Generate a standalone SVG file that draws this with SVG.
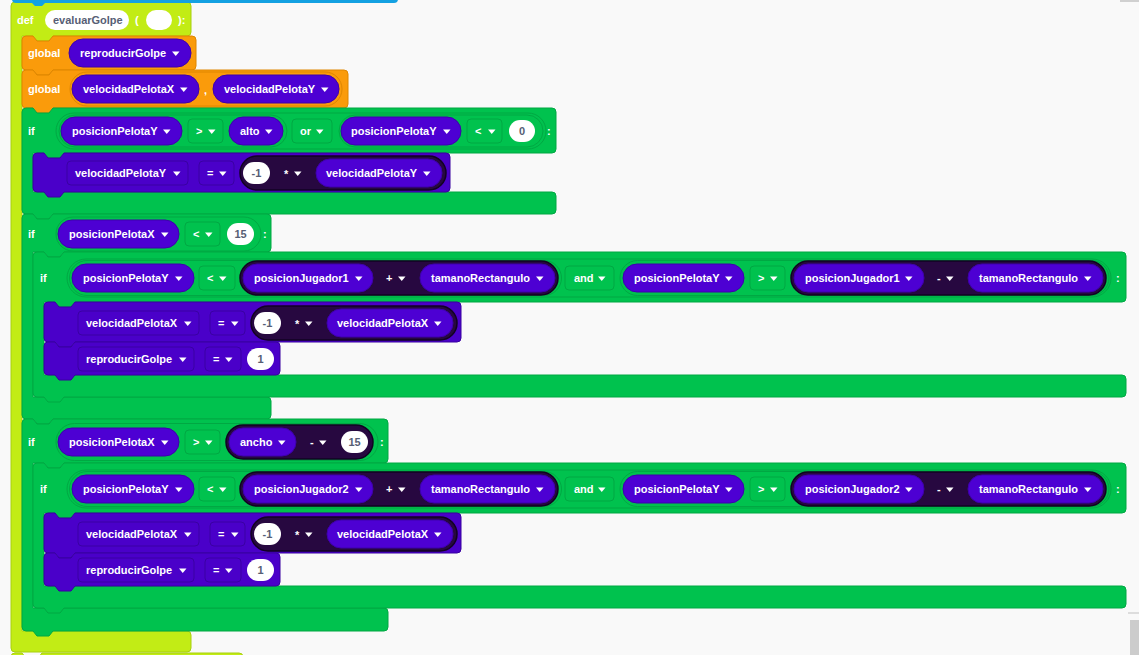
<svg xmlns="http://www.w3.org/2000/svg" width="1139" height="655" viewBox="0 0 1139 655">
<defs>
<style>
.lime{fill:#c2ec15;stroke:#a8d00e}
.org{fill:#fa9b0b;stroke:#de8600}
.grn{fill:#00c24e;stroke:#00a843}
.pur{fill:#4a00c9;stroke:#3800a0}
.pill{fill:#4d00d3;stroke:#3e00ac}
.dk{fill:#270840;stroke:#120222;stroke-width:1.5}
.wh{fill:#fff}
.ol{fill:none;stroke:#00a843}
.olo{fill:none;stroke:#de8600}
.box{fill:none;stroke:#00a843}
.fld{fill:none;stroke:#3a00a3}
text{font-family:"Liberation Sans",Arial,sans-serif;font-weight:bold;font-size:11px;fill:#fff}
.n{fill:#575e75;text-anchor:middle}
.nm{fill:#575e75}
</style>
<path id="dd" d="M0,0h7.5l-3.75,4.5z" fill="#fff"/>
</defs>
<rect width="1139" height="655" fill="#f9f9f9"/>

<g id="def-evaluarGolpe">
<path class="lime" d="M11,6 Q11,2 15,2 H187 Q191,2 191,6 V32 Q191,36 187,36 H53 l-4,5 h-12 l-4,-5 H22 V631 H187 Q191,631 191,635 V648 Q191,652 187,652 H15 Q11,652 11,648 Z"/>
<text x="17" y="24">def</text>
<rect class="wh" x="45" y="10" width="84" height="20" rx="10"/>
<text class="nm" x="53" y="24">evaluarGolpe</text>
<text x="135" y="24">(</text>
<rect class="wh" x="146" y="10" width="26" height="20" rx="10"/>
<text x="178" y="24">):</text>
</g>

<g id="block-above">
<path fill="#14a1e2" d="M12,-10 H398 V-1 Q398,3 394,3 H45 l-3,3 h-7 l-3,-3 H16 Q12,3 12,-1 Z"/>
</g>

<g id="global-1">
<path class="org" d="M22,40 Q22,36 26,36 H33 l4,5 h12 l4,-5 H192 Q196,36 196,40 V66 Q196,70 192,70 H53 l-4,5 h-12 l-4,-5 H26 Q22,70 22,66 Z"/>
<text x="28" y="57">global</text>
<rect class="pill" x="69" y="39" width="122" height="28" rx="14"/>
<text x="80" y="57">reproducirGolpe</text><use href="#dd" x="172" y="51.5"/>
</g>

<g id="global-2">
<path class="org" d="M22,74 Q22,70 26,70 H33 l4,5 h12 l4,-5 H344 Q348,70 348,74 V104 Q348,108 344,108 H53 l-4,5 h-12 l-4,-5 H26 Q22,108 22,104 Z"/>
<text x="28" y="93">global</text>
<rect class="olo" x="70" y="72" width="272" height="34" rx="17"/>
<rect class="pill" x="72" y="75" width="127" height="28" rx="14"/>
<text x="83" y="93">velocidadPelotaX</text><use href="#dd" x="180" y="87.5"/>
<text x="204" y="94">,</text>
<rect class="pill" x="213" y="75" width="126" height="28" rx="14"/>
<text x="224" y="93">velocidadPelotaY</text><use href="#dd" x="321" y="87.5"/>
</g>

<g id="if-1">
<path class="grn" d="M22,112 Q22,108 26,108 H33 l4,5 h12 l4,-5 H552 Q556,108 556,112 V149 Q556,153 552,153 H64 l-4,5 h-12 l-4,-5 H33 V192 H552 Q556,192 556,196 V210 Q556,214 552,214 H53 l-4,5 h-12 l-4,-5 H26 Q22,214 22,210 Z"/>
<text x="28" y="135">if</text>
<rect class="ol" x="56" y="113" width="490" height="36" rx="18"/>
<rect class="ol" x="59" y="115" width="228" height="32" rx="16"/>
<rect class="ol" x="339" y="115" width="204" height="32" rx="16"/>
<rect class="pill" x="61" y="117" width="121" height="28" rx="14"/>
<text x="72" y="135">posicionPelotaY</text><use href="#dd" x="163" y="129.5"/>
<rect class="box" x="188" y="119" width="35" height="24" rx="4"/>
<text x="196" y="135">&gt;</text><use href="#dd" x="208" y="129.5"/>
<rect class="pill" x="229" y="117" width="54" height="28" rx="14"/>
<text x="240" y="135">alto</text><use href="#dd" x="265" y="129.5"/>
<rect class="box" x="292" y="119" width="40" height="24" rx="4"/>
<text x="300" y="135">or</text><use href="#dd" x="316" y="129.5"/>
<rect class="pill" x="341" y="117" width="120" height="28" rx="14"/>
<text x="351" y="135">posicionPelotaY</text><use href="#dd" x="443" y="129.5"/>
<rect class="box" x="467" y="119" width="35" height="24" rx="4"/>
<text x="475" y="135">&lt;</text><use href="#dd" x="488" y="129.5"/>
<rect class="wh" x="509" y="120" width="26" height="22" rx="11"/>
<text class="n" x="522" y="135">0</text>
<text x="547" y="135">:</text>
</g>

<g id="set-velocidadPelotaY">
<path class="pur" d="M33,157 Q33,153 37,153 H44 l4,5 h12 l4,-5 H446 Q450,153 450,157 V188 Q450,192 446,192 H64 l-4,5 h-12 l-4,-5 H37 Q33,192 33,188 Z"/>
<rect class="fld" x="67" y="161" width="121" height="24" rx="4"/>
<text x="75" y="177">velocidadPelotaY</text><use href="#dd" x="173" y="171.5"/>
<rect class="fld" x="199" y="161" width="35" height="24" rx="4"/>
<text x="207" y="177">=</text><use href="#dd" x="219" y="171.5"/>
<rect class="dk" x="240" y="156" width="206" height="34" rx="17"/>
<rect class="wh" x="243" y="162" width="27" height="22" rx="11"/>
<text class="n" x="256.5" y="177">-1</text>
<text x="284" y="178">*</text><use href="#dd" x="294" y="171.5"/>
<rect class="pill" x="316" y="159" width="126" height="28" rx="14"/>
<text x="326" y="177">velocidadPelotaY</text><use href="#dd" x="423" y="171.5"/>
</g>

<g id="if-2">
<path class="grn" d="M22,218 Q22,214 26,214 H33 l4,5 h12 l4,-5 H267 Q271,214 271,218 V248 Q271,252 267,252 H64 l-4,5 h-12 l-4,-5 H33 V397 H267 Q271,397 271,401 V415 Q271,419 267,419 H53 l-4,5 h-12 l-4,-5 H26 Q22,419 22,415 Z"/>
<text x="28" y="238">if</text>
<rect class="ol" x="56" y="217" width="205" height="34" rx="17"/>
<rect class="pill" x="58" y="220" width="121" height="28" rx="14"/>
<text x="69" y="238">posicionPelotaX</text><use href="#dd" x="161" y="232.5"/>
<rect class="box" x="185" y="222" width="35" height="24" rx="4"/>
<text x="193" y="238">&lt;</text><use href="#dd" x="205" y="232.5"/>
<rect class="wh" x="227" y="223" width="27" height="22" rx="11"/>
<text class="n" x="240.5" y="238">15</text>
<text x="263" y="238">:</text>
</g>

<g id="if-2a">
<path class="grn" d="M33,256 Q33,252 37,252 H44 l4,5 h12 l4,-5 H1122 Q1126,252 1126,256 V298 Q1126,302 1122,302 H75 l-4,5 h-12 l-4,-5 H44 V375 H1122 Q1126,375 1126,379 V393 Q1126,397 1122,397 H64 l-4,5 h-12 l-4,-5 H37 Q33,397 33,393 Z"/>
<text x="40" y="282">if</text>
<rect class="ol" x="67" y="259" width="1044" height="38" rx="19"/>
<rect class="ol" x="69.5" y="260.5" width="492" height="35" rx="17.5"/>
<rect class="ol" x="620" y="260.5" width="489" height="35" rx="17.5"/>
<rect class="pill" x="72" y="264" width="122" height="28" rx="14"/>
<text x="83" y="282">posicionPelotaY</text><use href="#dd" x="175" y="276.5"/>
<rect class="box" x="199" y="266" width="36" height="24" rx="4"/>
<text x="207" y="282">&lt;</text><use href="#dd" x="219" y="276.5"/>
<rect class="dk" x="240" y="261" width="318" height="34" rx="17"/>
<rect class="pill" x="243" y="264" width="130" height="28" rx="14"/>
<text x="254" y="282">posicionJugador1</text><use href="#dd" x="355" y="276.5"/>
<text x="386" y="282">+</text><use href="#dd" x="398" y="276.5"/>
<rect class="pill" x="420" y="264" width="135" height="28" rx="14"/>
<text x="431" y="282">tamanoRectangulo</text><use href="#dd" x="536" y="276.5"/>
<rect class="box" x="565" y="266" width="49" height="24" rx="4"/>
<text x="574" y="282">and</text><use href="#dd" x="598" y="276.5"/>
<rect class="pill" x="623" y="264" width="121" height="28" rx="14"/>
<text x="634" y="282">posicionPelotaY</text><use href="#dd" x="725" y="276.5"/>
<rect class="box" x="750" y="266" width="35" height="24" rx="4"/>
<text x="758" y="282">&gt;</text><use href="#dd" x="770" y="276.5"/>
<rect class="dk" x="791" y="261" width="315" height="34" rx="17"/>
<rect class="pill" x="794" y="264" width="130" height="28" rx="14"/>
<text x="805" y="282">posicionJugador1</text><use href="#dd" x="905" y="276.5"/>
<text x="937" y="282">-</text><use href="#dd" x="946" y="276.5"/>
<rect class="pill" x="968" y="264" width="135" height="28" rx="14"/>
<text x="979" y="282">tamanoRectangulo</text><use href="#dd" x="1084" y="276.5"/>
<text x="1116" y="282">:</text>
</g>

<g id="set-velocidadPelotaX-a">
<path class="pur" d="M44,306 Q44,302 48,302 H55 l4,5 h12 l4,-5 H457 Q461,302 461,306 V338 Q461,342 457,342 H75 l-4,5 h-12 l-4,-5 H48 Q44,342 44,338 Z"/>
<rect class="fld" x="78" y="311" width="121" height="24" rx="4"/>
<text x="86" y="327">velocidadPelotaX</text><use href="#dd" x="184" y="321.5"/>
<rect class="fld" x="210" y="311" width="35" height="24" rx="4"/>
<text x="218" y="327">=</text><use href="#dd" x="231" y="321.5"/>
<rect class="dk" x="251" y="306" width="206" height="34" rx="17"/>
<rect class="wh" x="254" y="312" width="27" height="22" rx="11"/>
<text class="n" x="267.5" y="327">-1</text>
<text x="295" y="328">*</text><use href="#dd" x="305" y="321.5"/>
<rect class="pill" x="327" y="309" width="126" height="28" rx="14"/>
<text x="337" y="327">velocidadPelotaX</text><use href="#dd" x="434" y="321.5"/>
</g>

<g id="set-reproducirGolpe-a">
<path class="pur" d="M44,346 Q44,342 48,342 H55 l4,5 h12 l4,-5 H276 Q280,342 280,346 V371 Q280,375 276,375 H75 l-4,5 h-12 l-4,-5 H48 Q44,375 44,371 Z"/>
<rect class="fld" x="78" y="347" width="116" height="24" rx="4"/>
<text x="86" y="363">reproducirGolpe</text><use href="#dd" x="179" y="357.5"/>
<rect class="fld" x="205" y="347" width="36" height="24" rx="4"/>
<text x="213" y="363">=</text><use href="#dd" x="225" y="357.5"/>
<rect class="wh" x="247" y="348" width="27" height="22" rx="11"/>
<text class="n" x="260.5" y="363">1</text>
</g>

<g id="if-3">
<path class="grn" d="M22,423 Q22,419 26,419 H33 l4,5 h12 l4,-5 H384 Q388,419 388,423 V459 Q388,463 384,463 H64 l-4,5 h-12 l-4,-5 H33 V608 H384 Q388,608 388,612 V627 Q388,631 384,631 H53 l-4,5 h-12 l-4,-5 H26 Q22,631 22,627 Z"/>
<text x="28" y="446">if</text>
<rect class="ol" x="56" y="423.5" width="322" height="37" rx="18.5"/>
<rect class="pill" x="58" y="428" width="121" height="28" rx="14"/>
<text x="69" y="446">posicionPelotaX</text><use href="#dd" x="161" y="440.5"/>
<rect class="box" x="185" y="430" width="35" height="24" rx="4"/>
<text x="193" y="446">&gt;</text><use href="#dd" x="205" y="440.5"/>
<rect class="dk" x="226" y="425" width="147" height="34" rx="17"/>
<rect class="pill" x="229" y="428" width="67" height="28" rx="14"/>
<text x="240" y="446">ancho</text><use href="#dd" x="278" y="440.5"/>
<text x="310" y="446">-</text><use href="#dd" x="319" y="440.5"/>
<rect class="wh" x="341" y="431" width="27" height="22" rx="11"/>
<text class="n" x="354.5" y="446">15</text>
<text x="380" y="446">:</text>
</g>

<g id="if-3a" transform="translate(0,211)">
<path class="grn" d="M33,256 Q33,252 37,252 H44 l4,5 h12 l4,-5 H1122 Q1126,252 1126,256 V298 Q1126,302 1122,302 H75 l-4,5 h-12 l-4,-5 H44 V375 H1122 Q1126,375 1126,379 V393 Q1126,397 1122,397 H64 l-4,5 h-12 l-4,-5 H37 Q33,397 33,393 Z"/>
<text x="40" y="282">if</text>
<rect class="ol" x="67" y="259" width="1044" height="38" rx="19"/>
<rect class="ol" x="69.5" y="260.5" width="492" height="35" rx="17.5"/>
<rect class="ol" x="620" y="260.5" width="489" height="35" rx="17.5"/>
<rect class="pill" x="72" y="264" width="122" height="28" rx="14"/>
<text x="83" y="282">posicionPelotaY</text><use href="#dd" x="175" y="276.5"/>
<rect class="box" x="199" y="266" width="36" height="24" rx="4"/>
<text x="207" y="282">&lt;</text><use href="#dd" x="219" y="276.5"/>
<rect class="dk" x="240" y="261" width="318" height="34" rx="17"/>
<rect class="pill" x="243" y="264" width="130" height="28" rx="14"/>
<text x="254" y="282">posicionJugador2</text><use href="#dd" x="355" y="276.5"/>
<text x="386" y="282">+</text><use href="#dd" x="398" y="276.5"/>
<rect class="pill" x="420" y="264" width="135" height="28" rx="14"/>
<text x="431" y="282">tamanoRectangulo</text><use href="#dd" x="536" y="276.5"/>
<rect class="box" x="565" y="266" width="49" height="24" rx="4"/>
<text x="574" y="282">and</text><use href="#dd" x="598" y="276.5"/>
<rect class="pill" x="623" y="264" width="121" height="28" rx="14"/>
<text x="634" y="282">posicionPelotaY</text><use href="#dd" x="725" y="276.5"/>
<rect class="box" x="750" y="266" width="35" height="24" rx="4"/>
<text x="758" y="282">&gt;</text><use href="#dd" x="770" y="276.5"/>
<rect class="dk" x="791" y="261" width="315" height="34" rx="17"/>
<rect class="pill" x="794" y="264" width="130" height="28" rx="14"/>
<text x="805" y="282">posicionJugador2</text><use href="#dd" x="905" y="276.5"/>
<text x="937" y="282">-</text><use href="#dd" x="946" y="276.5"/>
<rect class="pill" x="968" y="264" width="135" height="28" rx="14"/>
<text x="979" y="282">tamanoRectangulo</text><use href="#dd" x="1084" y="276.5"/>
<text x="1116" y="282">:</text>
</g>

<g id="set-velocidadPelotaX-b" transform="translate(0,211)">
<path class="pur" d="M44,306 Q44,302 48,302 H55 l4,5 h12 l4,-5 H457 Q461,302 461,306 V338 Q461,342 457,342 H75 l-4,5 h-12 l-4,-5 H48 Q44,342 44,338 Z"/>
<rect class="fld" x="78" y="311" width="121" height="24" rx="4"/>
<text x="86" y="327">velocidadPelotaX</text><use href="#dd" x="184" y="321.5"/>
<rect class="fld" x="210" y="311" width="35" height="24" rx="4"/>
<text x="218" y="327">=</text><use href="#dd" x="231" y="321.5"/>
<rect class="dk" x="251" y="306" width="206" height="34" rx="17"/>
<rect class="wh" x="254" y="312" width="27" height="22" rx="11"/>
<text class="n" x="267.5" y="327">-1</text>
<text x="295" y="328">*</text><use href="#dd" x="305" y="321.5"/>
<rect class="pill" x="327" y="309" width="126" height="28" rx="14"/>
<text x="337" y="327">velocidadPelotaX</text><use href="#dd" x="434" y="321.5"/>
</g>

<g id="set-reproducirGolpe-b" transform="translate(0,211)">
<path class="pur" d="M44,346 Q44,342 48,342 H55 l4,5 h12 l4,-5 H276 Q280,342 280,346 V371 Q280,375 276,375 H75 l-4,5 h-12 l-4,-5 H48 Q44,375 44,371 Z"/>
<rect class="fld" x="78" y="347" width="116" height="24" rx="4"/>
<text x="86" y="363">reproducirGolpe</text><use href="#dd" x="179" y="357.5"/>
<rect class="fld" x="205" y="347" width="36" height="24" rx="4"/>
<text x="213" y="363">=</text><use href="#dd" x="225" y="357.5"/>
<rect class="wh" x="247" y="348" width="27" height="22" rx="11"/>
<text class="n" x="260.5" y="363">1</text>
</g>

<g id="block-below">
<path class="lime" d="M11,657 Q11,653 15,653 H22 l4,5 h12 l4,-5 H239 Q243,653 243,657 V670 H11 Z"/>
</g>

<g id="connectors"></g>

<g id="workspace-ui">
<rect x="1120" y="0" width="19" height="2" fill="#d0d0d0"/>
<rect x="1128" y="612" width="11" height="2" fill="#dddddd"/>
<rect x="1130" y="620" width="9" height="40" fill="#cccccc"/>
</g>
</svg>
